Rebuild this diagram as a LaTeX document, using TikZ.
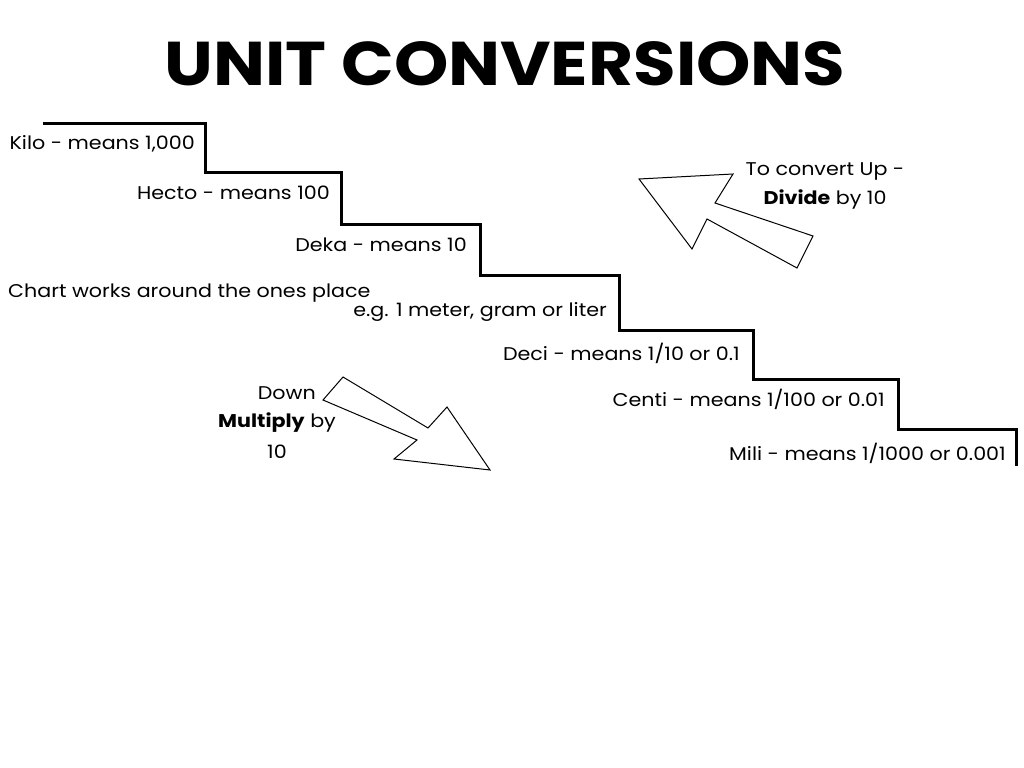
\documentclass[tikz,border=0pt]{standalone}
\usepackage{fontspec}
\setmainfont{Poppins}[FakeStretch=1.12]
\newfontfamily\titlefont{Poppins}[FakeStretch=1.12]
\begin{document}
\begin{tikzpicture}[x=1bp,y=-1bp,
  lbl/.style={inner sep=0pt,font=\fontsize{18.5}{22}\selectfont},
  stair/.style={line width=3bp,line join=miter},
  bigarrow/.style={draw=black,line width=1bp,fill=white,line join=miter}]
\useasboundingbox[fill=white] (0,0) rectangle (1024,768);
\node[inner sep=0pt,font=\titlefont\bfseries\fontsize{62}{68}\selectfont] (title) at (505,64) {UNIT CONVERSIONS};
% staircase
\draw[stair] (43,123) -- (205,123) -- (205,172) -- (341,172) -- (341,224) -- (480,224)
  -- (480,275) -- (619,275) -- (619,330) -- (753,330) -- (753,379) -- (898,379)
  -- (898,429) -- (1016,429) -- (1016,466);
% labels
\node[lbl,anchor=east] (kilo) at (195,144) {Kilo - means 1,000};
\node[lbl,anchor=east] (hecto) at (330,193) {Hecto - means 100};
\node[lbl,anchor=east] (deka) at (467,245) {Deka - means 10};
\node[lbl,anchor=west] (chart) at (8,293) {Chart works around the ones place};
\node[lbl,anchor=east] (eg) at (607,312) {e.g. 1 meter, gram or liter};
\node[lbl,anchor=east] (deci) at (740,353) {Deci - means 1/10 or 0.1};
\node[lbl,anchor=east] (centi) at (885,399) {Centi - means 1/100 or 0.01};
\node[lbl,anchor=east] (mili) at (1006,453) {Mili - means 1/1000 or 0.001};
% up arrow
\draw[bigarrow] (639,179) -- (733,174) -- (715,203) -- (813,236) -- (797,268)
  -- (707,219) -- (692,249) -- cycle;
\node[lbl,align=center,font=\fontsize{18.5}{29}\selectfont] (up) at (825,186) {To convert Up -\\\textbf{Divide} by 10};
% down arrow
\draw[bigarrow] (343,377) -- (323,400) -- (417,440) -- (394,459) -- (490,470)
  -- (447,407) -- (428,428) -- cycle;
\node[lbl,anchor=east] (down) at (316,393) {Down};
\node[lbl,anchor=west] (mult) at (218,423) {\textbf{Multiply} by};
\node[lbl] (ten) at (277,452) {10};
\end{tikzpicture}
\end{document}
